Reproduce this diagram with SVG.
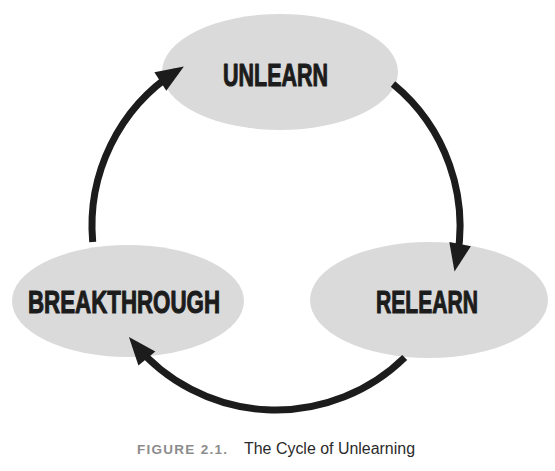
<svg xmlns="http://www.w3.org/2000/svg" width="555" height="471" viewBox="0 0 555 471">
  <style>
    .node ellipse { fill: #dadada; }
    .label { font-family: "Liberation Sans Narrow", "Liberation Sans", "DejaVu Sans", sans-serif; font-weight: bold; font-size: 32px; fill: #1c1c1c; stroke: #1c1c1c; stroke-width: 1.1; stroke-linejoin: round; text-anchor: middle; }
    .conn path { fill: none; stroke: #1c1c1c; stroke-width: 7; stroke-linecap: butt; }
    .cap-num { font-family: "Liberation Sans", "DejaVu Sans", sans-serif; font-weight: bold; font-size: 13.5px; fill: #8c8c8c; }
    .cap-txt { font-family: "Liberation Sans", "DejaVu Sans", sans-serif; font-size: 16px; fill: #2a2a2a; }
  </style>
  <defs>
    <marker id="head" markerUnits="userSpaceOnUse" markerWidth="28" markerHeight="22" refX="19" refY="11" orient="auto" overflow="visible">
      <path d="M0,0 L28,11 L0,22 Z" fill="#1c1c1c"/>
    </marker>
  </defs>
  <rect width="555" height="471" fill="#ffffff"/>

  <g id="unlearn" class="node">
    <ellipse cx="280" cy="72" rx="118" ry="58"/>
    <text class="label" x="275.5" y="86" textLength="105" lengthAdjust="spacingAndGlyphs">UNLEARN</text>
  </g>
  <g id="breakthrough" class="node">
    <ellipse cx="128" cy="301" rx="116" ry="56"/>
    <text class="label" x="124" y="313" textLength="192" lengthAdjust="spacingAndGlyphs">BREAKTHROUGH</text>
  </g>
  <g id="relearn" class="node">
    <ellipse cx="429" cy="300" rx="119" ry="58"/>
    <text class="label" x="427" y="313" textLength="102" lengthAdjust="spacingAndGlyphs">RELEARN</text>
  </g>

  <g id="connectors" class="conn">
    <path d="M92.7,242 A184,184 0 0 1 176.3,71.3" marker-end="url(#head)"/>
    <path d="M393,84 A184,184 0 0 1 456.3,262.7" marker-end="url(#head)"/>
    <path d="M404.7,357.5 A184,184 0 0 1 134.7,343.9" marker-end="url(#head)"/>
  </g>

  <g id="caption">
    <text class="cap-num" x="137" y="454" textLength="90" lengthAdjust="spacing">FIGURE 2.1.</text>
    <text class="cap-txt" x="244" y="454" textLength="171" lengthAdjust="spacingAndGlyphs">The Cycle of Unlearning</text>
  </g>
</svg>
